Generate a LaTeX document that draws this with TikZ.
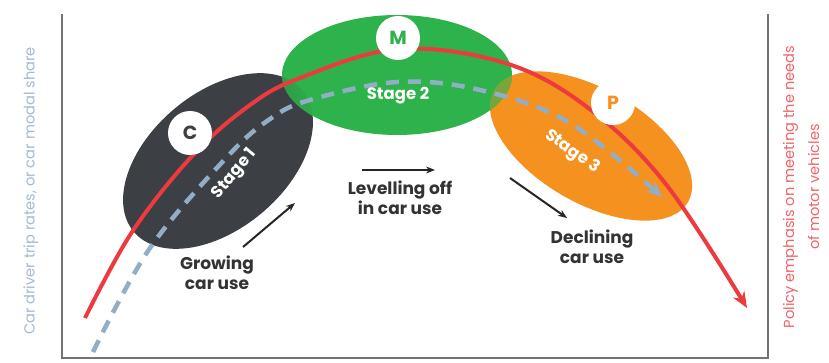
\documentclass[tikz,border=0pt]{standalone}
\usepackage{fontspec}
\setmainfont{Poppins}
\usetikzlibrary{arrows.meta}
\definecolor{stageone}{HTML}{3C3F43}
\definecolor{stagetwo}{HTML}{2EB24B}
\definecolor{stagethree}{HTML}{F5911F}
\definecolor{policyred}{HTML}{EC3A3F}
\definecolor{policypink}{HTML}{F26468}
\definecolor{tripblue}{HTML}{91AEC6}
\definecolor{axisblue}{HTML}{A2BAD2}
\begin{document}
\begin{tikzpicture}[x=1pt,y=-1pt,
  badge/.style={circle, fill=white, minimum size=44pt, inner sep=0pt, font=\fontsize{19}{19}\selectfont\bfseries},
  stagelabel/.style={text=white, inner sep=1pt, font=\fontsize{16.5}{16.5}\selectfont\bfseries},
  trend/.style={align=center, text=black!80, font=\fontsize{17}{20.5}\selectfont\bfseries},
  move/.style={-{Stealth[length=9pt,width=7pt]}, line width=2pt, black!85},
  sidelabel/.style={rotate=90, align=center, font=\fontsize{14.6}{25}\selectfont}]
\useasboundingbox (0,0) rectangle (829,363);
% frame
\draw[line width=1.5pt, black!55] (62,14) -- (62,358) -- (768,358) -- (768,14);
\node[sidelabel, text=axisblue] (tripaxis) at (31,191) {Car driver trip rates, or car modal share};
\node[sidelabel, text=policypink] (policyaxis) at (801,187) {Policy emphasis on meeting the needs\\of motor vehicles};
% stages
\fill[stageone, rotate around={40:(218,161)}] (218,161) ellipse (110 and 68);
\fill[stagethree, rotate around={-30:(591,146)}] (591,146) ellipse (112 and 57);
\fill[stagetwo] (397,75) ellipse (115 and 60);
\begin{scope}
  \clip (397,75) ellipse (115 and 60);
  \shade[left color=stageone, right color=stagetwo, rotate around={40:(218,161)}] (218,161) ellipse (110 and 68);
  \shade[left color=stagetwo!70!stagethree, right color=stagethree, rotate around={-30:(591,146)}] (591,146) ellipse (112 and 57);
\end{scope}
% curves
\draw[policyred, line width=4pt, -{Stealth[length=16pt,width=13pt]}]
  plot[smooth, tension=0.6] coordinates {(85,318) (132,232) (193,155) (250,105) (300,78) (398,49) (505,63) (587,107) (665,183) (747,308)};
\draw[tripblue, line width=4.5pt, dash pattern=on 13pt off 9pt, -{Stealth[length=15pt,width=13pt]}]
  plot[smooth, tension=0.6] coordinates {(93,352) (150,248) (227,157) (270,119) (310,100) (397,82) (480,90) (570,123) (662,197)};
% badges and stage names
\node[badge, text=stageone] (carbadge) at (190,133) {C};
\node[badge, text=stagetwo] (mbadge) at (398,38) {M};
\node[badge, text=stagethree] (pbadge) at (613,103) {P};
\node[stagelabel, rotate=50] (stage1) at (235,174) {Stage 1};
\node[stagelabel] (stage2) at (398,96) {Stage 2};
\node[stagelabel, rotate=-35] (stage3) at (572,152) {Stage 3};
% trends
\node[trend] (growing) at (217,273) {Growing\\car use};
\node[trend] (levelling) at (400,198) {Levelling off\\in car use};
\node[trend] (declining) at (592,247) {Declining\\car use};
\coordinate (g1) at (243,247); \coordinate (g2) at (295,203);
\coordinate (l1) at (362,170); \coordinate (l2) at (435,170);
\coordinate (d1) at (510,178); \coordinate (d2) at (567,218);
\draw[move] (g1) -- (g2);
\draw[move] (l1) -- (l2);
\draw[move] (d1) -- (d2);
\end{tikzpicture}
\end{document}
